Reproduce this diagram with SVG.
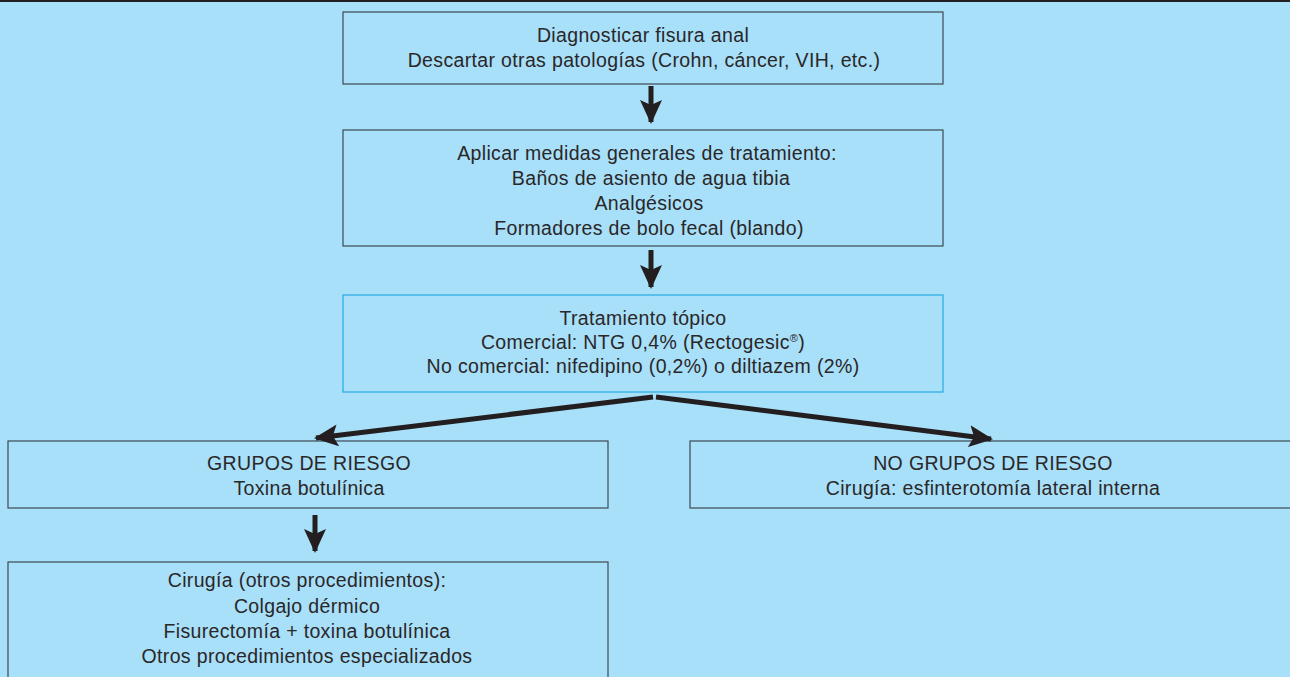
<svg xmlns="http://www.w3.org/2000/svg" width="1290" height="677" viewBox="0 0 1290 677">
<defs>
<style>
.bx{fill:none;stroke:#3c4a52;stroke-width:1.2}
.bc{fill:none;stroke:#25aae1;stroke-width:1.2}
.t{font-family:"Liberation Sans",Arial,sans-serif;font-size:19.5px;letter-spacing:0.35px;fill:#2a2728;text-anchor:middle}
.c{stroke:#231f20;stroke-width:5;fill:none}
</style>
<marker id="ah" viewBox="0 0 24 22" refX="22" refY="11" markerWidth="24" markerHeight="22" markerUnits="userSpaceOnUse" orient="auto">
<path d="M0,0 L24,11 L0,22 L5,11 Z" fill="#231f20"/>
</marker>
</defs>
<rect width="1290" height="677" fill="#a8dff9"/>
<line x1="0" y1="1" x2="1290" y2="1" stroke="#231f20" stroke-width="2"/>
<g id="n1">
<rect class="bx" x="343" y="12" width="600" height="72"/>
<text class="t" x="643" y="42">Diagnosticar fisura anal</text>
<text class="t" x="644" y="67">Descartar otras patologías (Crohn, cáncer, VIH, etc.)</text>
</g>
<g id="n2">
<rect class="bx" x="343" y="130" width="600" height="116"/>
<text class="t" x="647" y="160">Aplicar medidas generales de tratamiento:</text>
<text class="t" x="651" y="185">Baños de asiento de agua tibia</text>
<text class="t" x="649" y="210">Analgésicos</text>
<text class="t" x="649" y="235">Formadores de bolo fecal (blando)</text>
</g>
<g id="n3">
<rect class="bc" x="343" y="295" width="600" height="97"/>
<text class="t" x="643" y="325">Tratamiento tópico</text>
<text class="t" x="643" y="349">Comercial: NTG 0,4% (Rectogesic<tspan font-size="11" dy="-7">®</tspan><tspan dy="7">)</tspan></text>
<text class="t" x="643" y="373">No comercial: nifedipino (0,2%) o diltiazem (2%)</text>
</g>
<g id="n4">
<rect class="bx" x="8" y="441" width="600" height="67"/>
<text class="t" x="309" y="470">GRUPOS DE RIESGO</text>
<text class="t" x="309" y="495">Toxina botulínica</text>
</g>
<g id="n5">
<rect class="bx" x="690" y="441" width="620" height="67"/>
<text class="t" x="993" y="470">NO GRUPOS DE RIESGO</text>
<text class="t" x="993" y="495">Cirugía: esfinterotomía lateral interna</text>
</g>
<g id="n6">
<rect class="bx" x="8" y="562" width="600" height="130"/>
<text class="t" x="307" y="587">Cirugía (otros procedimientos):</text>
<text class="t" x="307" y="613">Colgajo dérmico</text>
<text class="t" x="307" y="638">Fisurectomía + toxina botulínica</text>
<text class="t" x="307" y="663">Otros procedimientos especializados</text>
</g>
<g id="connectors">
<line class="c" x1="651" y1="86" x2="651" y2="122" marker-end="url(#ah)"/>
<line class="c" x1="651" y1="250" x2="651" y2="287" marker-end="url(#ah)"/>
<line class="c" x1="653" y1="397" x2="316" y2="438" marker-end="url(#ah)"/>
<line class="c" x1="656" y1="397" x2="991" y2="439" marker-end="url(#ah)"/>
<line class="c" x1="315" y1="515" x2="315" y2="551" marker-end="url(#ah)"/>
</g>
</svg>
